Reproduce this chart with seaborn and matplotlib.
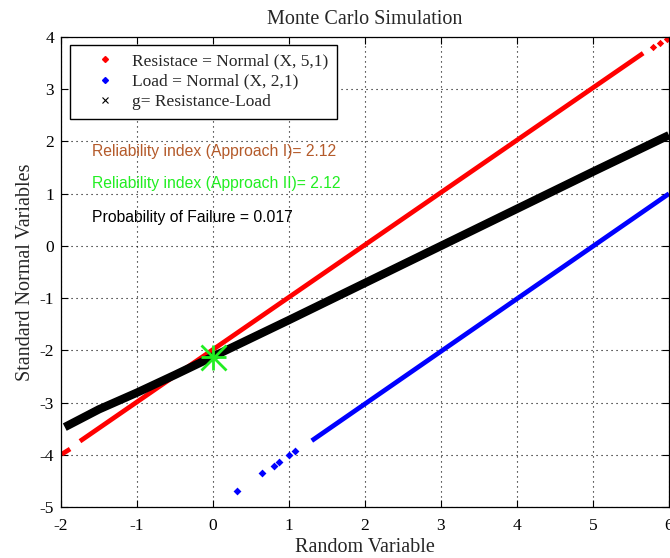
import matplotlib
matplotlib.use("Agg")
import matplotlib.pyplot as plt
import seaborn as sns
from matplotlib.lines import Line2D

# Resistance samples (sorted) vs standard normal quantile
red_tail_x = [-1.99, -1.88]
red_tail_y = [-3.99, -3.89]
red_band_x = [-1.75, 5.66]
red_band_y = [-3.74, 3.69]
red_sparse_x = [5.79, 5.88, 5.97]
red_sparse_y = [3.81, 3.89, 3.96]

# Load samples
blue_band_x = [1.30, 6.0]
blue_band_y = [-3.73, 1.0]
blue_sparse_x = [0.32, 0.65, 0.80, 0.87, 1.00, 1.08]
blue_sparse_y = [-4.69, -4.35, -4.21, -4.14, -4.00, -3.93]

# Limit state g = R - L
g_x = [-1.95, -1.5, -1.0, -0.5, 0.0, 1.0, 2.0, 3.0, 4.0, 5.0, 6.0]
g_y = [-3.47, -3.13, -2.81, -2.47, -2.12, -1.42, -0.71, 0.0, 0.71, 1.42, 2.12]

design_point_x = [0.0]
design_point_y = [-2.12]

beta_1 = 2.12
beta_2 = 2.12
pf = 0.017

xticks = [-2, -1, 0, 1, 2, 3, 4, 5, 6]
yticks = [-5, -4, -3, -2, -1, 0, 1, 2, 3, 4]

sns.set_theme(style="white")
plt.rcParams["font.family"] = ["Liberation Serif", "DejaVu Serif"]
plt.rcParams["axes.unicode_minus"] = False

fig = plt.figure(figsize=(6.7, 5.58), dpi=100)
ax = fig.add_axes([0.091, 0.0914, 0.9075, 0.8423])

def band(x, y, color, lw):
    sns.lineplot(x=x, y=y, ax=ax, color=color, linewidth=lw,
                 solid_capstyle="butt", sort=False, estimator=None, legend=False)

band(red_tail_x, red_tail_y, "red", 3.4)
band(red_band_x, red_band_y, "red", 3.4)
sns.scatterplot(x=red_sparse_x, y=red_sparse_y, ax=ax, color="red", marker="D",
                s=14, linewidth=0, legend=False)

band(blue_band_x, blue_band_y, "blue", 3.4)
sns.scatterplot(x=blue_sparse_x, y=blue_sparse_y, ax=ax, color="blue", marker="D",
                s=16, linewidth=0, legend=False)

band(g_x, g_y, "black", 6.0)

# design point as a MATLAB-style asterisk
for m in ["+", "x"]:
    ax.plot(design_point_x, design_point_y, linestyle="none", marker=m,
            markersize=18, markeredgewidth=2.0, color="#22ee22", zorder=5)

ax.set_xlim(-2, 6)
ax.set_ylim(-5, 4)
ax.set_xticks(xticks)
ax.set_yticks(yticks)
ax.tick_params(direction="in", length=5, width=0.8, colors="black",
               labelsize=12.5, top=True, right=True, bottom=True, left=True)
ax.tick_params(axis="x", pad=8)
ax.tick_params(axis="y", pad=5)
ax.grid(True, linestyle=(0, (1, 3.5)), color="black", linewidth=0.8)
for s in ax.spines.values():
    s.set_color("black")
    s.set_linewidth(0.9)

ax.set_title("Monte Carlo Simulation", fontsize=14.5, pad=9)
ax.set_xlabel("Random Variable", fontsize=14.5, labelpad=3)
ax.set_ylabel("Standard Normal Variables", fontsize=14.5, labelpad=3)

handles = [
    Line2D([], [], linestyle="none", marker="D", markersize=3, color="red"),
    Line2D([], [], linestyle="none", marker="D", markersize=3, color="blue"),
    Line2D([], [], linestyle="none", marker="x", markersize=5, markeredgewidth=0.8, color="black"),
]
labels = ["Resistace = Normal (X, 5,1)", "Load = Normal (X, 2,1)", "g= Resistance-Load"]
leg = ax.legend(handles, labels, loc="upper left", bbox_to_anchor=(0.0155, 0.984),
                fontsize=12.5, frameon=True, fancybox=False, edgecolor="black",
                framealpha=1, borderpad=0.5, labelspacing=0.24, handletextpad=0.05,
                handlelength=3.0, borderaxespad=0)
leg.get_frame().set_linewidth(1.0)

sans = ["Liberation Sans", "DejaVu Sans"]
ax.text(-1.59, 1.80, f"Reliability index (Approach I)= {beta_1:.2f}", color="#b45a2a",
        fontsize=11.3, family=sans, va="center")
ax.text(-1.59, 1.20, f"Reliability index (Approach II)= {beta_2:.2f}", color="#22ee22",
        fontsize=11.3, family=sans, va="center")
ax.text(-1.59, 0.55, f"Probability of Failure = {pf:.3f}", color="black",
        fontsize=11.3, family=sans, va="center")

fig.savefig("out.png", dpi=100)
